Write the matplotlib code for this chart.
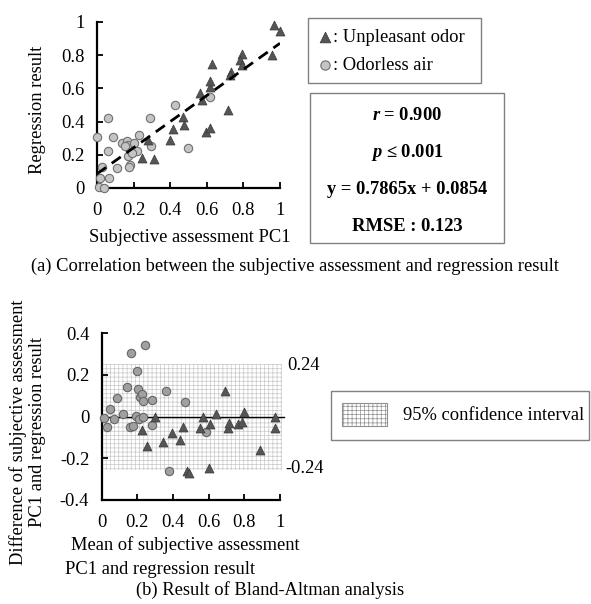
import numpy as np
import matplotlib
matplotlib.use('Agg')
import matplotlib.pyplot as plt
from matplotlib.patches import Rectangle

plt.rcParams['font.family'] = ['Liberation Serif', 'DejaVu Serif']
plt.rcParams['hatch.linewidth'] = 0.5
plt.rcParams['axes.unicode_minus'] = False
plt.rcParams['mathtext.fontset'] = 'custom'
plt.rcParams['mathtext.rm'] = 'Liberation Serif'
plt.rcParams['mathtext.it'] = 'Liberation Serif:italic'
plt.rcParams['mathtext.bf'] = 'Liberation Serif:bold'
plt.rcParams['mathtext.bfit'] = 'Liberation Serif:italic:bold'

# (a) subjective assessment PC1 vs regression result
odor_x = [0.245, 0.28, 0.314, 0.40, 0.418, 0.469, 0.478, 0.565, 0.574, 0.595,
          0.615, 0.615, 0.62, 0.628, 0.716, 0.73, 0.725, 0.79, 0.78, 0.79,
          0.956, 0.965, 0.998]
odor_y = [0.18, 0.29, 0.173, 0.29, 0.354, 0.427, 0.38, 0.57, 0.53, 0.34,
          0.36, 0.61, 0.645, 0.75, 0.47, 0.70, 0.68, 0.81, 0.77, 0.74,
          0.80, 0.98, 0.945]
air_x = [0.424, 0.06, 0.29, 0.0, 0.085, 0.227, 0.136, 0.164, 0.172, 0.154,
         0.296, 0.218, 0.496, 0.06, 0.172, 0.18, 0.176, 0.109, 0.03, 0.018,
         0.067, 0.01, 0.04, 0.618, 0.20, 0.19]
air_y = [0.50, 0.42, 0.42, 0.306, 0.306, 0.32, 0.273, 0.285, 0.26, 0.253,
         0.253, 0.225, 0.24, 0.22, 0.193, 0.14, 0.125, 0.119, 0.125, 0.058,
         0.058, 0.004, 0.0, 0.547, 0.27, 0.21]
slope, intercept = 0.7865, 0.0854
stats_lines = [r'$\bfit{r}$ = 0.900', r'$\bfit{p}$ ≤ 0.001',
               'y = 0.7865x + 0.0854', 'RMSE : 0.123']

# (b) Bland-Altman
ba_air_mean = [0.013, 0.028, 0.047, 0.069, 0.084, 0.12, 0.144, 0.163, 0.159,
               0.174, 0.19, 0.20, 0.206, 0.215, 0.224, 0.23, 0.21, 0.23, 0.245,
               0.28, 0.28, 0.36, 0.378, 0.467, 0.583]
ba_air_diff = [-0.006, -0.05, 0.037, -0.011, 0.09, 0.013, 0.144, 0.306, -0.05,
               -0.046, 0.005, 0.22, 0.133, 0.093, 0.109, 0.077, -0.011, 0.0,
               0.346, 0.08, -0.038, 0.125, -0.26, 0.069, -0.075]
ba_odor_mean = [0.224, 0.252, 0.30, 0.346, 0.393, 0.44, 0.454, 0.477, 0.49,
                0.55, 0.57, 0.607, 0.60, 0.64, 0.69, 0.71, 0.716, 0.766, 0.785,
                0.80, 0.888, 0.974, 0.972]
ba_odor_diff = [-0.064, -0.139, 0.0, -0.12, -0.08, -0.112, -0.051, -0.26, -0.272,
                -0.054, 0.0, -0.035, -0.248, 0.013, 0.122, -0.054, -0.032, -0.035,
                -0.027, 0.02, -0.158, 0.0, -0.054]
ci_upper, ci_lower = 0.255, -0.255
ci_labels = ['0.24', '-0.24']

W, H = 591, 604
fig = plt.figure(figsize=(W / 100, H / 100), dpi=100)

# overlay in pixel coords for boxes / captions
ov = fig.add_axes([0, 0, 1, 1])
ov.set_xlim(0, W)
ov.set_ylim(H, 0)
ov.axis('off')

FS = 13.3
tri_c, tri_e = '#555555', '#3a3a3a'
cir_c, cir_e = '#c4c4c4', '#707070'


def px_axes(x0, y0, x1, y1):
    return fig.add_axes([x0 / W, 1 - y1 / H, (x1 - x0) / W, (y1 - y0) / H])


def style(ax):
    for s in ['top', 'right']:
        ax.spines[s].set_visible(False)
    for s in ['left', 'bottom']:
        ax.spines[s].set_linewidth(1.6)
    ax.tick_params(direction='in', length=4, width=1.3, labelsize=FS)
    ax.tick_params(axis='x', pad=10)
    ax.tick_params(axis='y', pad=9)
    ax.patch.set_alpha(0)


# ---- panel (a)
ax1 = px_axes(97, 22, 280, 188)
style(ax1)
ax1.set_xlim(0, 1)
ax1.set_ylim(0, 1)
ticks = [0, 0.2, 0.4, 0.6, 0.8, 1]
tlab = ['0', '0.2', '0.4', '0.6', '0.8', '1']
ax1.set_xticks(ticks, tlab)
ax1.set_yticks(ticks, tlab)
xl = np.array([0, 1])
ax1.plot(xl, slope * xl + intercept, color='black', lw=2, ls=(0, (4, 2.5)), zorder=4)
ax1.scatter(air_x, air_y, s=36, c=cir_c, edgecolors=cir_e, linewidths=0.8, zorder=3, clip_on=False)
ax1.scatter(odor_x, odor_y, s=42, marker='^', c=tri_c, edgecolors=tri_e, linewidths=0.5, zorder=3, clip_on=False)
ov.text(37, 110, 'Regression result', fontsize=FS, rotation=90, ha='center', va='center')
ov.text(190, 238, 'Subjective assessment PC1', fontsize=FS, ha='center', va='center')

# legend box
ov.add_patch(Rectangle((308, 18), 173, 65, fill=False, ec='#808080', lw=1))
ov.scatter([325], [37], s=60, marker='^', c=tri_c, edgecolors=tri_e, linewidths=0.5)
ov.scatter([325], [65], s=45, c=cir_c, edgecolors=cir_e, linewidths=0.8)
ov.text(333, 37, ': Unpleasant odor', fontsize=FS, va='center')
ov.text(333, 65, ': Odorless air', fontsize=FS, va='center')

# stats box
ov.add_patch(Rectangle((310, 93), 194, 150, fill=False, ec='#808080', lw=1))
for i, line in enumerate(stats_lines):
    ov.text(407, 116 + i * 36.7, line, fontsize=FS, fontweight='bold', ha='center', va='center')

ov.text(295, 266, '(a) Correlation between the subjective assessment and regression result',
        fontsize=FS, ha='center', va='center')

# ---- panel (b)
ax2 = px_axes(101.7, 333.3, 280, 500)
style(ax2)
ax2.set_xlim(0, 1)
ax2.set_ylim(-0.4, 0.4)
ax2.set_xticks(ticks, tlab)
ax2.set_yticks([-0.4, -0.2, 0, 0.2, 0.4], ['-0.4', '-0.2', '0', '0.2', '0.4'])
ax2.fill_between([0, 1.01], ci_lower, ci_upper, facecolor='white', edgecolor='#c8c8c8',
                 hatch='++++', linewidth=0, zorder=1, clip_on=False)
ax2.plot([0, 1.02], [0, 0], color='black', lw=1, zorder=2, clip_on=False)
ax2.scatter(ba_air_mean, ba_air_diff, s=36, c='#a0a0a0', edgecolors='#666666', linewidths=0.8, zorder=3, clip_on=False)
ax2.scatter(ba_odor_mean, ba_odor_diff, s=42, marker='^', c=tri_c, edgecolors=tri_e, linewidths=0.5, zorder=3, clip_on=False)
ax2.text(1.04, ci_upper - 0.01, ci_labels[0], fontsize=FS, va='center', ha='left')
ax2.text(1.03, ci_lower + 0.005, ci_labels[1], fontsize=FS, va='center', ha='left')

ov.text(28, 432, 'Difference of subjective assessment\nPC1 and regression result',
        fontsize=FS, rotation=90, ha='center', va='center', linespacing=1.15)
ov.text(185, 545, 'Mean of subjective assessment', fontsize=FS, ha='center', va='center')
ov.text(160, 569, 'PC1 and regression result', fontsize=FS, ha='center', va='center')
ov.text(270, 590, '(b) Result of Bland-Altman analysis', fontsize=FS, ha='center', va='center')

# CI legend box
ov.add_patch(Rectangle((331, 391), 258, 49, fill=False, ec='#808080', lw=1))
ov.add_patch(Rectangle((342, 403), 45, 23, facecolor='white', ec='#909090', lw=0.8, hatch='++++'))
ov.text(403, 416, '95% confidence interval', fontsize=FS, va='center')

fig.savefig('out.png', dpi=100)
